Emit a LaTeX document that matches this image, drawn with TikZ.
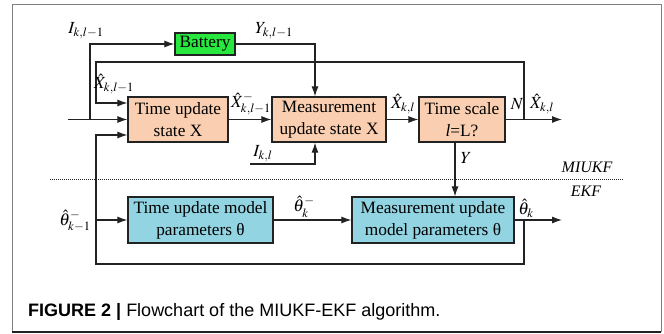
\documentclass[tikz,border=0pt]{standalone}
\usepackage{mathptmx}
\usepackage[no-math]{fontspec}
\setmainfont{Liberation Serif}
\newfontfamily\capfont{Liberation Sans}
\usetikzlibrary{arrows.meta}

\definecolor{peach}{RGB}{250,206,176}
\definecolor{batgreen}{RGB}{40,232,64}
\definecolor{cyanbox}{RGB}{146,212,226}
\definecolor{ink}{RGB}{34,34,34}

\begin{document}
\begin{tikzpicture}[x=1pt,y=-1pt,
  box/.style={draw=ink, line width=1.2pt, align=center, inner sep=0pt,
    font=\fontsize{17.3}{22}\selectfont},
  wire/.style={draw=ink, line width=1.1pt},
  arr/.style={wire, -{Latex[length=10pt,width=7pt]}},
  lbl/.style={inner sep=0pt, font=\fontsize{17}{20}\selectfont},
  tag/.style={inner sep=0pt, font=\fontsize{16}{18}\selectfont\itshape}]

\useasboundingbox (0,0) rectangle (664,334);

% frame round the figure
\draw[gray, line width=1pt] (12,332) -- (12,5) -- (661,5) -- (661,332);
\draw[ink, line width=1.2pt] (12,332) -- (661,332);

% state blocks (MIUKF)
\node[box, fill=peach, minimum width=100pt, minimum height=45pt] (tux) at (178,119.5) {Time update\\state X};
\node[box, fill=peach, minimum width=114pt, minimum height=45pt] (mux) at (329,119.5) {Measurement\\update state X};
\node[box, fill=peach, minimum width=86pt, minimum height=45pt] (tsx) at (462,119.5) {Time scale\\\textit{l}=L?};
\node[box, fill=batgreen, minimum width=60pt, minimum height=22pt] (bat) at (205,44) {Battery};

% parameter blocks (EKF)
\node[box, fill=cyanbox, minimum width=145pt, minimum height=46pt] (tum) at (200.5,220) {Time update model\\parameters θ};
\node[box, fill=cyanbox, minimum width=162pt, minimum height=46pt] (mum) at (433,220) {Measurement update\\model parameters θ};

% free ends and junctions
\coordinate (in) at (68,119.5);
\coordinate (jI) at (90,119.5);
\coordinate (jN) at (524,119.5);
\coordinate (xout) at (562,119.5);
\coordinate (jT) at (524,220);
\coordinate (tout) at (562,220);
\coordinate (tin) at (96,220);
\coordinate (ikl) at (250,164);

% state path
\draw[arr] (in) -- (tux);
\draw[arr] (jI) |- (bat);
\draw[arr] (bat.east) -| ([xshift=-14pt]mux.north);
\draw[arr] (tux) -- (mux);
\draw[arr] (mux) -- (tsx);
\draw[arr] (tsx) -- (xout);
\draw[arr] (ikl) -| ([xshift=-14pt]mux.south);
\draw[arr] (jN) -- (524,62) -- (96,62) -- (96,103) -- ([yshift=16.5pt]tux.west);

% parameter path
\draw[arr] (tin) -- (tum);
\draw[arr] (tum) -- (mum);
\draw[arr] (mum) -- (tout);
\draw[arr] ([xshift=-7pt]tsx.south) -- ([xshift=22pt]mum.north);
\draw[arr] (jT) -- (524,264) -- (96,264) -- (96,135) -- ([yshift=-15.5pt]tux.west);

% MIUKF / EKF split
\draw[ink, line width=1pt, dash pattern=on 1pt off 1pt] (50,179) -- (624,179);
\node[tag] (miukf) at (587,167) {MIUKF};
\node[tag] (ekf) at (586,191) {EKF};

% signal labels
\node[lbl] (lIprev) at (86,31) {$I_{k,l-1}$};
\node[lbl] (lYprev) at (274,31) {$Y_{k,l-1}$};
\node[lbl] (lXprev) at (114,84) {$\hat{X}_{k,l-1}$};
\node[lbl] (lXminus) at (251,104) {$\hat{X}^{-}_{k,l-1}$};
\node[lbl] (lI) at (263,154) {$I_{k,l}$};
\node[lbl] (lX) at (403,104) {$\hat{X}_{k,l}$};
\node[lbl] (lN) at (517,104) {$N$};
\node[lbl] (lXout) at (542,104) {$\hat{X}_{k,l}$};
\node[lbl] (lY) at (466,158) {$Y$};
\node[lbl] (lTprev) at (75,221) {$\hat{\theta}^{-}_{k-1}$};
\node[lbl] (lTminus) at (304,207) {$\hat{\theta}^{-}_{k}$};
\node[lbl] (lT) at (526,208) {$\hat{\theta}_{k}$};

% caption
\node[anchor=base west, inner sep=0pt, font=\capfont\fontsize{18}{20}\selectfont] (cap) at (28,316)
  {\textbf{FIGURE 2 |} Flowchart of the MIUKF-EKF algorithm.};
\end{tikzpicture}
\end{document}
